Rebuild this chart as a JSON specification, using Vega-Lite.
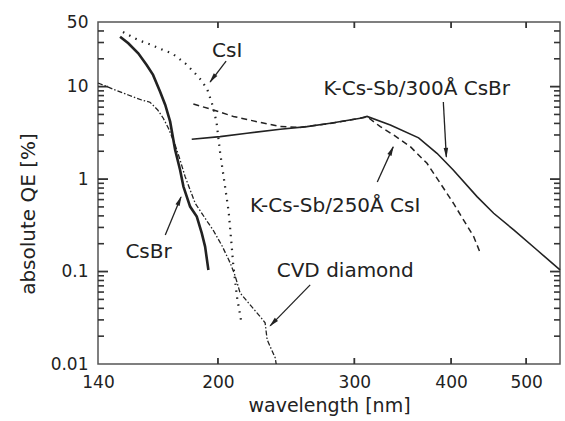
{
  "$schema": "https://vega.github.io/schema/vega-lite/v6.json",
  "width": 462,
  "height": 342,
  "autosize": "none",
  "padding": {"left": 98, "top": 22, "right": 5, "bottom": 57},
  "background": "white",
  "config": {
    "view": {"stroke": "#555", "strokeWidth": 1.5},
    "axis": {
      "domain": false, "grid": false, "tickSize": 0, "tickWidth": 0,
      "labelFont": "DejaVu Sans", "labelFontSize": 17, "labelColor": "#222",
      "titleFont": "DejaVu Sans", "titleFontSize": 19, "titleColor": "#222", "titleFontWeight": "normal",
      "labelFlush": false, "labelOverlap": false
    }
  },
  "datasets": {
    "curves": [
      {"s": "CsI", "w": 150.8, "qe": 39.0},
      {"s": "CsI", "w": 157.7, "qe": 31.9},
      {"s": "CsI", "w": 163.4, "qe": 28.7},
      {"s": "CsI", "w": 169.9, "qe": 24.9},
      {"s": "CsI", "w": 174.5, "qe": 22.9},
      {"s": "CsI", "w": 181.4, "qe": 17.9},
      {"s": "CsI", "w": 186.3, "qe": 14.3},
      {"s": "CsI", "w": 190.2, "qe": 11.8},
      {"s": "CsI", "w": 193.7, "qe": 9.4},
      {"s": "CsI", "w": 197.1, "qe": 6.07},
      {"s": "CsI", "w": 199.2, "qe": 4.05},
      {"s": "CsI", "w": 201.3, "qe": 1.92},
      {"s": "CsI", "w": 204.3, "qe": 0.822},
      {"s": "CsI", "w": 206.5, "qe": 0.441},
      {"s": "CsI", "w": 208.0, "qe": 0.22},
      {"s": "CsI", "w": 209.2, "qe": 0.124},
      {"s": "CsI", "w": 211.6, "qe": 0.0536},
      {"s": "CsI", "w": 214.7, "qe": 0.0265},
      {"s": "CsBr", "w": 149.5, "qe": 34.7},
      {"s": "CsBr", "w": 153.2, "qe": 29.4},
      {"s": "CsBr", "w": 157.8, "qe": 22.9},
      {"s": "CsBr", "w": 161.8, "qe": 17.1},
      {"s": "CsBr", "w": 164.9, "qe": 13.4},
      {"s": "CsBr", "w": 168.4, "qe": 8.82},
      {"s": "CsBr", "w": 171.0, "qe": 6.33},
      {"s": "CsBr", "w": 173.5, "qe": 4.18},
      {"s": "CsBr", "w": 176.1, "qe": 2.07},
      {"s": "CsBr", "w": 178.7, "qe": 1.256},
      {"s": "CsBr", "w": 180.5, "qe": 0.83},
      {"s": "CsBr", "w": 184.1, "qe": 0.504},
      {"s": "CsBr", "w": 187.8, "qe": 0.393},
      {"s": "CsBr", "w": 190.6, "qe": 0.26},
      {"s": "CsBr", "w": 192.5, "qe": 0.186},
      {"s": "CsBr", "w": 194.4, "qe": 0.104},
      {"s": "CVD", "w": 140.0, "qe": 10.95},
      {"s": "CVD", "w": 147.3, "qe": 9.2},
      {"s": "CVD", "w": 153.2, "qe": 8.12},
      {"s": "CVD", "w": 159.4, "qe": 7.17},
      {"s": "CVD", "w": 163.4, "qe": 6.78},
      {"s": "CVD", "w": 167.2, "qe": 5.59},
      {"s": "CVD", "w": 170.0, "qe": 4.55},
      {"s": "CVD", "w": 172.6, "qe": 3.55},
      {"s": "CVD", "w": 176.1, "qe": 2.34},
      {"s": "CVD", "w": 178.7, "qe": 1.61},
      {"s": "CVD", "w": 181.4, "qe": 1.063},
      {"s": "CVD", "w": 186.9, "qe": 0.548},
      {"s": "CVD", "w": 194.4, "qe": 0.333},
      {"s": "CVD", "w": 197.1, "qe": 0.282},
      {"s": "CVD", "w": 202.5, "qe": 0.189},
      {"s": "CVD", "w": 207.4, "qe": 0.124},
      {"s": "CVD", "w": 210.5, "qe": 0.0898},
      {"s": "CVD", "w": 213.6, "qe": 0.0588},
      {"s": "CVD", "w": 220.1, "qe": 0.0436},
      {"s": "CVD", "w": 226.7, "qe": 0.0326},
      {"s": "CVD", "w": 230.1, "qe": 0.0279},
      {"s": "CVD", "w": 231.5, "qe": 0.0183},
      {"s": "CVD", "w": 237.1, "qe": 0.01167},
      {"s": "CVD", "w": 237.8, "qe": 0.01},
      {"s": "KCsSb250", "w": 185.9, "qe": 6.49},
      {"s": "KCsSb250", "w": 197.3, "qe": 5.59},
      {"s": "KCsSb250", "w": 209.4, "qe": 4.76},
      {"s": "KCsSb250", "w": 224.5, "qe": 4.18},
      {"s": "KCsSb250", "w": 240.7, "qe": 3.71},
      {"s": "KCsSb250", "w": 255.4, "qe": 3.62},
      {"s": "KCsSb250", "w": 279.3, "qe": 4.0},
      {"s": "KCsSb250", "w": 311.9, "qe": 4.7},
      {"s": "KCsSb250", "w": 324.1, "qe": 3.69},
      {"s": "KCsSb250", "w": 337.2, "qe": 3.0},
      {"s": "KCsSb250", "w": 354.4, "qe": 2.24},
      {"s": "KCsSb250", "w": 372.4, "qe": 1.48},
      {"s": "KCsSb250", "w": 387.4, "qe": 0.9},
      {"s": "KCsSb250", "w": 402.8, "qe": 0.548},
      {"s": "KCsSb250", "w": 415.2, "qe": 0.36},
      {"s": "KCsSb250", "w": 427.8, "qe": 0.239},
      {"s": "KCsSb250", "w": 436.4, "qe": 0.158},
      {"s": "KCsSb300", "w": 185.0, "qe": 2.7},
      {"s": "KCsSb300", "w": 201.3, "qe": 2.88},
      {"s": "KCsSb300", "w": 218.0, "qe": 3.13},
      {"s": "KCsSb300", "w": 240.7, "qe": 3.46},
      {"s": "KCsSb300", "w": 260.5, "qe": 3.69},
      {"s": "KCsSb300", "w": 279.3, "qe": 4.02},
      {"s": "KCsSb300", "w": 305.4, "qe": 4.55},
      {"s": "KCsSb300", "w": 311.6, "qe": 4.76},
      {"s": "KCsSb300", "w": 333.9, "qe": 3.85},
      {"s": "KCsSb300", "w": 363.2, "qe": 2.79},
      {"s": "KCsSb300", "w": 383.6, "qe": 1.9},
      {"s": "KCsSb300", "w": 402.6, "qe": 1.256},
      {"s": "KCsSb300", "w": 432.1, "qe": 0.646},
      {"s": "KCsSb300", "w": 454.0, "qe": 0.427},
      {"s": "KCsSb300", "w": 481.9, "qe": 0.282},
      {"s": "KCsSb300", "w": 516.5, "qe": 0.171},
      {"s": "KCsSb300", "w": 553.0, "qe": 0.104}
    ],
    "labels": [
      {"t": "CsI", "w": 205.6, "qe": 24.0},
      {"t": "K-Cs-Sb/300Å CsBr", "w": 361.2, "qe": 9.32},
      {"t": "K-Cs-Sb/250Å CsI", "w": 283.4, "qe": 0.513},
      {"t": "CsBr", "w": 162.7, "qe": 0.161},
      {"t": "CVD diamond", "w": 292.0, "qe": 0.1004}
    ],
    "arrows": [
      {"id": "CsI", "w": 204.9, "qe": 18.9, "w2": 195.4, "qe2": 11.2},
      {"id": "K300", "w": 390.9, "qe": 6.83, "w2": 394.4, "qe2": 1.74},
      {"id": "K250", "w": 321.2, "qe": 0.932, "w2": 336.8, "qe2": 2.23},
      {"id": "CsBr", "w": 171.0, "qe": 0.249, "w2": 179.2, "qe2": 0.641},
      {"id": "CVD", "w": 263.1, "qe": 0.0718, "w2": 233.6, "qe2": 0.02585}
    ],
    "heads": [
      {"id": "CsI", "w": 196.8, "qe": 12.2},
      {"id": "K300", "w": 394.2, "qe": 1.92},
      {"id": "K250", "w": 335.1, "qe": 2.04},
      {"id": "CsBr", "w": 178.4, "qe": 0.585},
      {"id": "CVD", "w": 235.5, "qe": 0.0278}
    ],
    "yticks": [
      {"v": 0.1, "k": "major"}, {"v": 1, "k": "major"}, {"v": 10, "k": "major"},
      {"v": 0.02, "k": "minor"}, {"v": 0.03, "k": "minor"}, {"v": 0.04, "k": "minor"}, {"v": 0.05, "k": "minor"},
      {"v": 0.06, "k": "minor"}, {"v": 0.07, "k": "minor"}, {"v": 0.08, "k": "minor"}, {"v": 0.09, "k": "minor"},
      {"v": 0.2, "k": "minor"}, {"v": 0.3, "k": "minor"}, {"v": 0.4, "k": "minor"}, {"v": 0.5, "k": "minor"},
      {"v": 0.6, "k": "minor"}, {"v": 0.7, "k": "minor"}, {"v": 0.8, "k": "minor"}, {"v": 0.9, "k": "minor"},
      {"v": 2, "k": "minor"}, {"v": 3, "k": "minor"}, {"v": 4, "k": "minor"}, {"v": 5, "k": "minor"},
      {"v": 6, "k": "minor"}, {"v": 7, "k": "minor"}, {"v": 8, "k": "minor"}, {"v": 9, "k": "minor"},
      {"v": 20, "k": "minor"}, {"v": 30, "k": "minor"}, {"v": 40, "k": "minor"}
    ],
    "xticks": [{"v": 200}, {"v": 300}, {"v": 400}, {"v": 500}]
  },
  "layer": [
    {
      "data": {"name": "yticks"},
      "transform": [{"filter": "datum.k === 'major'"}],
      "mark": {"type": "tick", "orient": "horizontal", "thickness": 1.8, "color": "#333", "opacity": 1, "size": 10, "xOffset": 5},
      "encoding": {
        "y": {"field": "v", "type": "quantitative", "scale": {"type": "log", "domain": [0.01, 50], "nice": false},
              "axis": {"orient": "left", "values": [0.01, 0.1, 1, 10, 50], "format": "~g", "labelPadding": 10,
                       "title": "absolute QE [%]", "titleFontSize": 20, "titleBaseline": "alphabetic", "titleX": -64, "titleY": 191.5}},
        "x": {"datum": 140, "type": "quantitative", "scale": {"type": "log", "domain": [140, 553], "nice": false},
              "axis": {"orient": "bottom", "values": [140, 200, 300, 400, 500], "format": "~g", "labelPadding": 10, "labelBaseline": "top",
                       "title": "wavelength [nm]", "titleBaseline": "alphabetic", "titleY": 47}}
      }
    },
    {
      "data": {"name": "yticks"},
      "transform": [{"filter": "datum.k === 'minor'"}],
      "mark": {"type": "tick", "orient": "horizontal", "thickness": 1.6, "color": "#333", "opacity": 1, "size": 6, "xOffset": 3},
      "encoding": {
        "y": {"field": "v", "type": "quantitative", "scale": {"type": "log", "domain": [0.01, 50], "nice": false}},
        "x": {"datum": 140, "type": "quantitative", "scale": {"type": "log", "domain": [140, 553], "nice": false}}
      }
    },
    {
      "data": {"name": "yticks"},
      "transform": [{"filter": "datum.k === 'major'"}],
      "mark": {"type": "tick", "orient": "horizontal", "thickness": 1.8, "color": "#333", "opacity": 1, "size": 10, "xOffset": -5},
      "encoding": {
        "y": {"field": "v", "type": "quantitative", "scale": {"type": "log", "domain": [0.01, 50], "nice": false}},
        "x": {"datum": 553, "type": "quantitative", "scale": {"type": "log", "domain": [140, 553], "nice": false}}
      }
    },
    {
      "data": {"name": "yticks"},
      "transform": [{"filter": "datum.k === 'minor'"}],
      "mark": {"type": "tick", "orient": "horizontal", "thickness": 1.6, "color": "#333", "opacity": 1, "size": 6, "xOffset": -3},
      "encoding": {
        "y": {"field": "v", "type": "quantitative", "scale": {"type": "log", "domain": [0.01, 50], "nice": false}},
        "x": {"datum": 553, "type": "quantitative", "scale": {"type": "log", "domain": [140, 553], "nice": false}}
      }
    },
    {
      "data": {"name": "xticks"},
      "mark": {"type": "tick", "orient": "vertical", "thickness": 1.8, "color": "#333", "opacity": 1, "size": 6, "yOffset": -3},
      "encoding": {
        "x": {"field": "v", "type": "quantitative", "scale": {"type": "log", "domain": [140, 553], "nice": false}},
        "y": {"datum": 0.01, "type": "quantitative", "scale": {"type": "log", "domain": [0.01, 50], "nice": false}}
      }
    },
    {
      "data": {"name": "xticks"},
      "mark": {"type": "tick", "orient": "vertical", "thickness": 1.8, "color": "#333", "opacity": 1, "size": 6, "yOffset": 3},
      "encoding": {
        "x": {"field": "v", "type": "quantitative", "scale": {"type": "log", "domain": [140, 553], "nice": false}},
        "y": {"datum": 50, "type": "quantitative", "scale": {"type": "log", "domain": [0.01, 50], "nice": false}}
      }
    },
    {
      "data": {"name": "curves"},
      "transform": [{"filter": "datum.s === 'CsI'"}],
      "mark": {"type": "line", "color": "#222", "strokeWidth": 2.2, "strokeDash": [1.5, 5.5]},
      "encoding": {
        "x": {"field": "w", "type": "quantitative", "scale": {"type": "log", "domain": [140, 553], "nice": false}},
        "y": {"field": "qe", "type": "quantitative", "scale": {"type": "log", "domain": [0.01, 50], "nice": false}}
      }
    },
    {
      "data": {"name": "curves"},
      "transform": [{"filter": "datum.s === 'CsBr'"}],
      "mark": {"type": "line", "color": "#222", "strokeWidth": 2.6},
      "encoding": {
        "x": {"field": "w", "type": "quantitative", "scale": {"type": "log", "domain": [140, 553], "nice": false}},
        "y": {"field": "qe", "type": "quantitative", "scale": {"type": "log", "domain": [0.01, 50], "nice": false}}
      }
    },
    {
      "data": {"name": "curves"},
      "transform": [{"filter": "datum.s === 'CVD'"}],
      "mark": {"type": "line", "color": "#222", "strokeWidth": 1.3, "strokeDash": [5, 2, 1.5, 2]},
      "encoding": {
        "x": {"field": "w", "type": "quantitative", "scale": {"type": "log", "domain": [140, 553], "nice": false}},
        "y": {"field": "qe", "type": "quantitative", "scale": {"type": "log", "domain": [0.01, 50], "nice": false}}
      }
    },
    {
      "data": {"name": "curves"},
      "transform": [{"filter": "datum.s === 'KCsSb250'"}],
      "mark": {"type": "line", "color": "#222", "strokeWidth": 1.5, "strokeDash": [6, 4]},
      "encoding": {
        "x": {"field": "w", "type": "quantitative", "scale": {"type": "log", "domain": [140, 553], "nice": false}},
        "y": {"field": "qe", "type": "quantitative", "scale": {"type": "log", "domain": [0.01, 50], "nice": false}}
      }
    },
    {
      "data": {"name": "curves"},
      "transform": [{"filter": "datum.s === 'KCsSb300'"}],
      "mark": {"type": "line", "color": "#222", "strokeWidth": 1.6},
      "encoding": {
        "x": {"field": "w", "type": "quantitative", "scale": {"type": "log", "domain": [140, 553], "nice": false}},
        "y": {"field": "qe", "type": "quantitative", "scale": {"type": "log", "domain": [0.01, 50], "nice": false}}
      }
    },
    {
      "data": {"name": "arrows"},
      "mark": {"type": "rule", "color": "#222", "strokeWidth": 1.3},
      "encoding": {
        "x": {"field": "w", "type": "quantitative", "scale": {"type": "log", "domain": [140, 553], "nice": false}},
        "y": {"field": "qe", "type": "quantitative", "scale": {"type": "log", "domain": [0.01, 50], "nice": false}},
        "x2": {"field": "w2"},
        "y2": {"field": "qe2"}
      }
    },
    {
      "data": {"name": "heads"},
      "transform": [{"filter": "datum.id === 'CsI'"}],
      "mark": {"type": "point", "shape": "M0,-1L0.45,1L-0.45,1Z", "filled": true, "color": "#222", "opacity": 1, "size": 100, "angle": 217.3},
      "encoding": {
        "x": {"field": "w", "type": "quantitative", "scale": {"type": "log", "domain": [140, 553], "nice": false}},
        "y": {"field": "qe", "type": "quantitative", "scale": {"type": "log", "domain": [0.01, 50], "nice": false}}
      }
    },
    {
      "data": {"name": "heads"},
      "transform": [{"filter": "datum.id === 'K300'"}],
      "mark": {"type": "point", "shape": "M0,-1L0.45,1L-0.45,1Z", "filled": true, "color": "#222", "opacity": 1, "size": 100, "angle": 176.9},
      "encoding": {
        "x": {"field": "w", "type": "quantitative", "scale": {"type": "log", "domain": [140, 553], "nice": false}},
        "y": {"field": "qe", "type": "quantitative", "scale": {"type": "log", "domain": [0.01, 50], "nice": false}}
      }
    },
    {
      "data": {"name": "heads"},
      "transform": [{"filter": "datum.id === 'K250'"}],
      "mark": {"type": "point", "shape": "M0,-1L0.45,1L-0.45,1Z", "filled": true, "color": "#222", "opacity": 1, "size": 100, "angle": 24.6},
      "encoding": {
        "x": {"field": "w", "type": "quantitative", "scale": {"type": "log", "domain": [140, 553], "nice": false}},
        "y": {"field": "qe", "type": "quantitative", "scale": {"type": "log", "domain": [0.01, 50], "nice": false}}
      }
    },
    {
      "data": {"name": "heads"},
      "transform": [{"filter": "datum.id === 'CsBr'"}],
      "mark": {"type": "point", "shape": "M0,-1L0.45,1L-0.45,1Z", "filled": true, "color": "#222", "opacity": 1, "size": 100, "angle": 22.8},
      "encoding": {
        "x": {"field": "w", "type": "quantitative", "scale": {"type": "log", "domain": [140, 553], "nice": false}},
        "y": {"field": "qe", "type": "quantitative", "scale": {"type": "log", "domain": [0.01, 50], "nice": false}}
      }
    },
    {
      "data": {"name": "heads"},
      "transform": [{"filter": "datum.id === 'CVD'"}],
      "mark": {"type": "point", "shape": "M0,-1L0.45,1L-0.45,1Z", "filled": true, "color": "#222", "opacity": 1, "size": 100, "angle": 224.3},
      "encoding": {
        "x": {"field": "w", "type": "quantitative", "scale": {"type": "log", "domain": [140, 553], "nice": false}},
        "y": {"field": "qe", "type": "quantitative", "scale": {"type": "log", "domain": [0.01, 50], "nice": false}}
      }
    },
    {
      "data": {"name": "labels"},
      "mark": {"type": "text", "font": "DejaVu Sans", "fontSize": 20, "color": "#222", "align": "center", "baseline": "middle"},
      "encoding": {
        "x": {"field": "w", "type": "quantitative", "scale": {"type": "log", "domain": [140, 553], "nice": false}},
        "y": {"field": "qe", "type": "quantitative", "scale": {"type": "log", "domain": [0.01, 50], "nice": false}},
        "text": {"field": "t"}
      }
    }
  ]
}
